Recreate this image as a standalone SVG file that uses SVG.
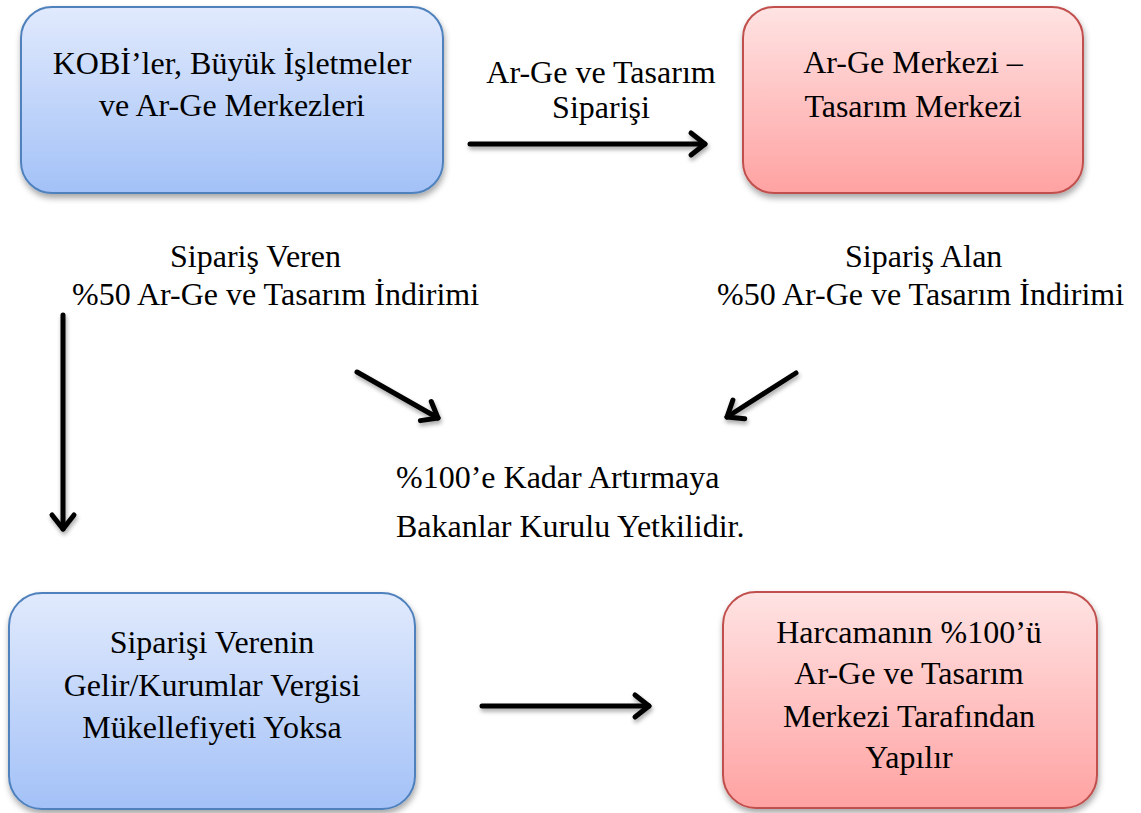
<svg xmlns="http://www.w3.org/2000/svg" width="1141" height="813" viewBox="0 0 1141 813">
  <style>
    .blue { fill: url(#gBlue); stroke: #4f81bd; stroke-width: 2; filter: url(#boxShadow); }
    .red { fill: url(#gRed); stroke: #c0504d; stroke-width: 2; filter: url(#boxShadow); }
    .arrow { fill: none; stroke: #000; stroke-width: 5; stroke-linecap: round; marker-end: url(#chev); }
  </style>
  <defs>
    <linearGradient id="gBlue" x1="0" y1="0" x2="0" y2="1">
      <stop offset="0" stop-color="#e1eafd"/>
      <stop offset="1" stop-color="#a3c1f7"/>
    </linearGradient>
    <linearGradient id="gRed" x1="0" y1="0" x2="0" y2="1">
      <stop offset="0" stop-color="#ffe3e3"/>
      <stop offset="1" stop-color="#ffa2a2"/>
    </linearGradient>
    <filter id="boxShadow" x="-10%" y="-10%" width="120%" height="125%">
      <feDropShadow dx="1" dy="4" stdDeviation="3" flood-color="#000" flood-opacity="0.35"/>
    </filter>
    <filter id="arrowShadow" x="-20%" y="-50%" width="140%" height="200%">
      <feDropShadow dx="1" dy="3" stdDeviation="2" flood-color="#000" flood-opacity="0.35"/>
    </filter>
    <marker id="chev" markerUnits="userSpaceOnUse" viewBox="-20 -15 25 30" refX="0" refY="0" markerWidth="25" markerHeight="30" orient="auto" overflow="visible">
      <path d="M-14,-11 L0,0 L-14,11" fill="none" stroke="#000" stroke-width="5" stroke-linecap="round" stroke-linejoin="round"/>
    </marker>
  </defs>

  <rect width="1141" height="813" fill="#fff"/>

  <!-- connectors -->
  <g id="connectors" filter="url(#arrowShadow)">
    <path class="arrow" d="M470,144 H705"/>
    <path class="arrow" d="M63,315 V529"/>
    <path class="arrow" d="M357,372 L438,418"/>
    <path class="arrow" d="M796,373 L727,417"/>
    <path class="arrow" d="M482,706 H649"/>
  </g>

  <!-- edge and free labels -->
  <g id="label-order">
    <text x="601" y="83" font-family="Liberation Serif" font-size="32" text-anchor="middle">Ar-Ge ve Tasarım</text>
    <text x="601" y="118" font-family="Liberation Serif" font-size="32" text-anchor="middle">Siparişi</text>
  </g>
  <g id="label-giver">
    <text x="170" y="267" font-family="Liberation Serif" font-size="32">Sipariş Veren</text>
    <text x="72" y="305" font-family="Liberation Serif" font-size="32">%50 Ar-Ge ve Tasarım İndirimi</text>
  </g>
  <g id="label-taker">
    <text x="845" y="267" font-family="Liberation Serif" font-size="32">Sipariş Alan</text>
    <text x="717" y="305" font-family="Liberation Serif" font-size="32">%50 Ar-Ge ve Tasarım İndirimi</text>
  </g>
  <g id="label-council">
    <text x="396" y="488" font-family="Liberation Serif" font-size="32">%100’e Kadar Artırmaya</text>
    <text x="396" y="537" font-family="Liberation Serif" font-size="32">Bakanlar Kurulu Yetkilidir.</text>
  </g>

  <!-- nodes -->
  <g id="node-kobi">
    <rect class="blue" x="21" y="7" width="422" height="186" rx="31" ry="31"/>
    <text x="232" y="74" font-family="Liberation Serif" font-size="32" text-anchor="middle">KOBİ’ler, Büyük İşletmeler</text>
    <text x="232" y="116" font-family="Liberation Serif" font-size="32" text-anchor="middle">ve Ar-Ge Merkezleri</text>
  </g>
  <g id="node-center">
    <rect class="red" x="743" y="7" width="340" height="186" rx="31" ry="31"/>
    <text x="913" y="73" font-family="Liberation Serif" font-size="32" text-anchor="middle">Ar-Ge Merkezi –</text>
    <text x="913" y="117" font-family="Liberation Serif" font-size="32" text-anchor="middle">Tasarım Merkezi</text>
  </g>
  <g id="node-no-tax">
    <rect class="blue" x="9" y="593" width="406" height="216" rx="33" ry="33"/>
    <text x="212" y="653" font-family="Liberation Serif" font-size="32" text-anchor="middle">Siparişi Verenin</text>
    <text x="212" y="696" font-family="Liberation Serif" font-size="32" text-anchor="middle">Gelir/Kurumlar Vergisi</text>
    <text x="212" y="738" font-family="Liberation Serif" font-size="32" text-anchor="middle">Mükellefiyeti Yoksa</text>
  </g>
  <g id="node-full">
    <rect class="red" x="723" y="592" width="374" height="216" rx="33" ry="33"/>
    <text x="909" y="643" font-family="Liberation Serif" font-size="32" text-anchor="middle">Harcamanın %100’ü</text>
    <text x="909" y="684" font-family="Liberation Serif" font-size="32" text-anchor="middle">Ar-Ge ve Tasarım</text>
    <text x="909" y="727" font-family="Liberation Serif" font-size="32" text-anchor="middle">Merkezi Tarafından</text>
    <text x="909" y="768" font-family="Liberation Serif" font-size="32" text-anchor="middle">Yapılır</text>
  </g>
</svg>
